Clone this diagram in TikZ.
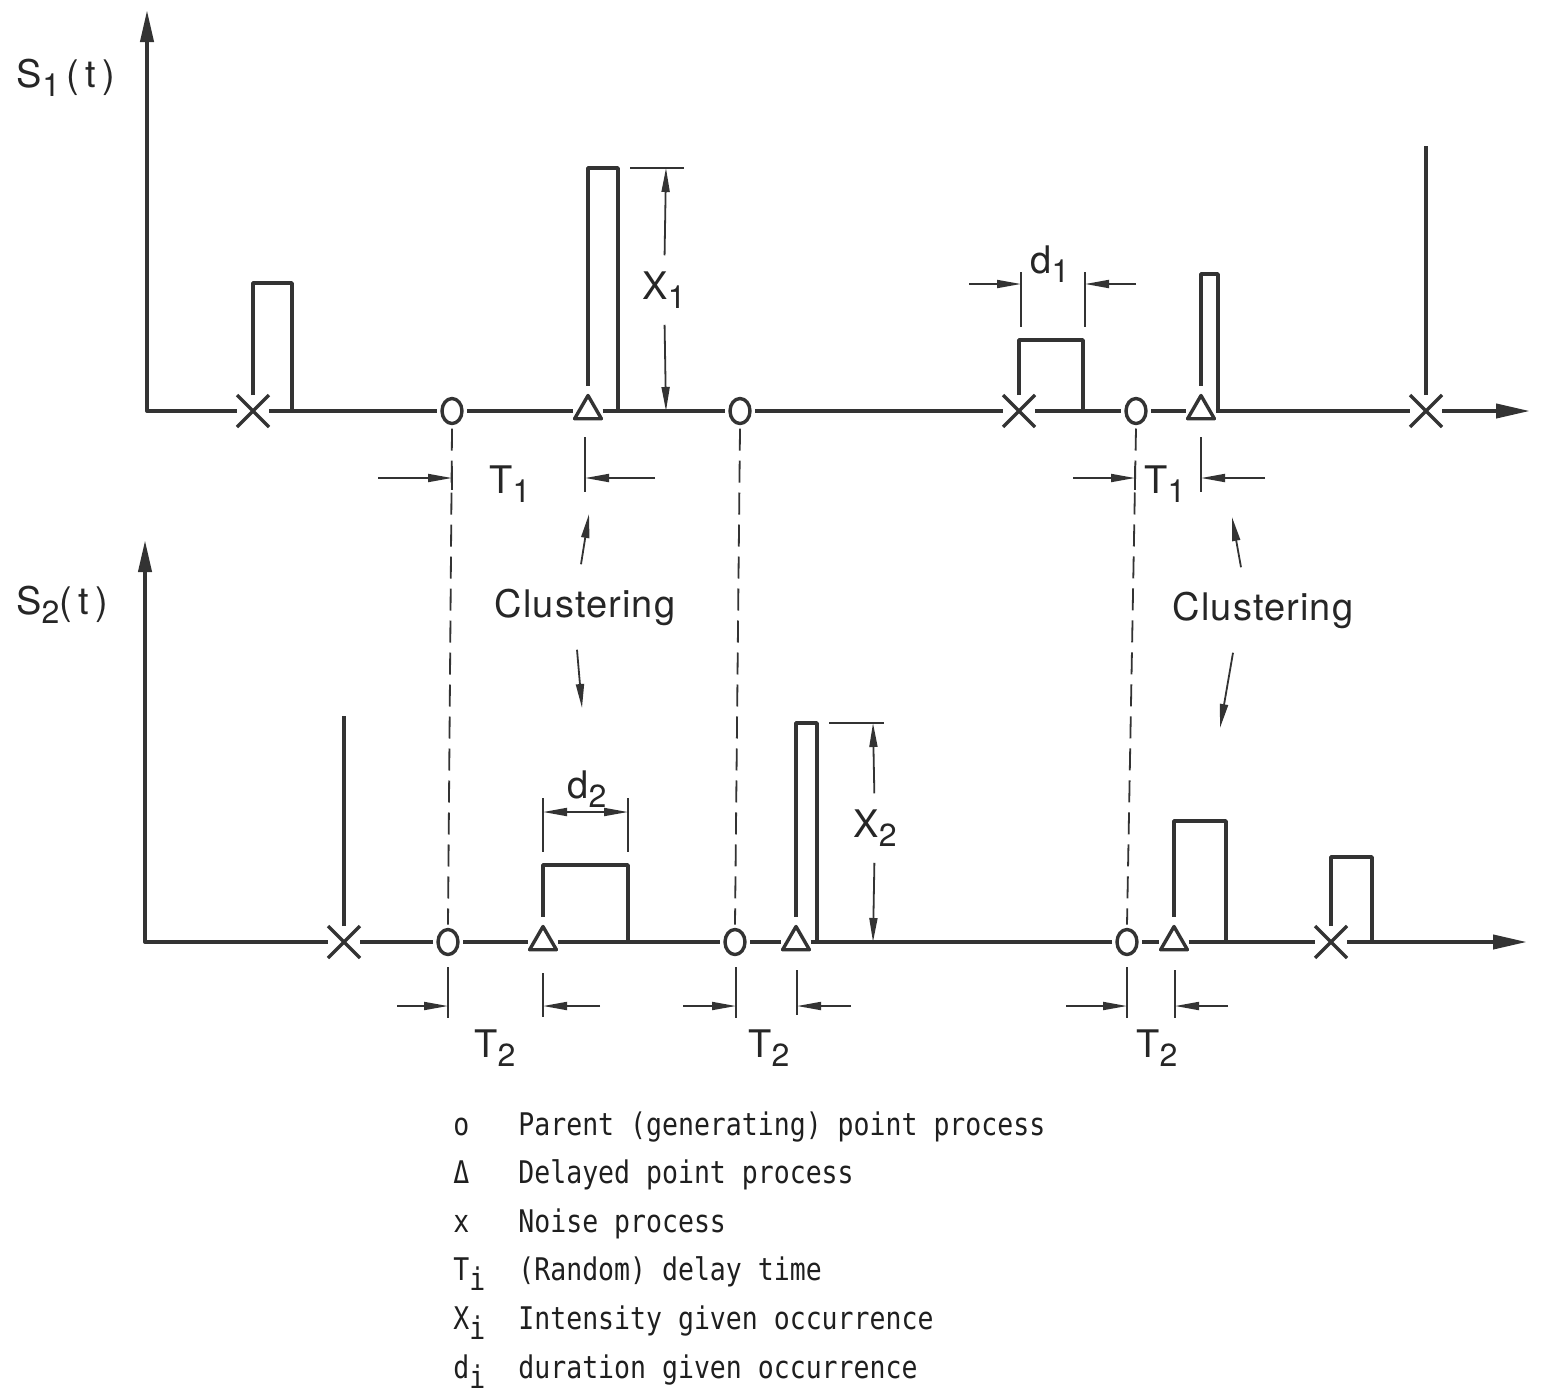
\documentclass[tikz,border=0pt]{standalone}
\usepackage{fontspec}
\setmainfont{TeX Gyre Heros}
\newfontfamily\labfont{TeX Gyre Heros}[LetterSpace=3.0]
\newfontfamily\legfont{DejaVu Sans Mono}[FakeStretch=0.85]
\usetikzlibrary{arrows.meta,shapes.geometric,shapes.misc}
\definecolor{ink}{gray}{0.2}
\newcommand{\lsub}[1]{\raisebox{-4.5pt}{\fontsize{16}{18}\selectfont #1}}
\newcommand{\isub}{\raisebox{-5pt}{i}}

\begin{document}
\begin{tikzpicture}[
  x=0.5pt, y=-0.5pt, line join=round,
  axis/.style={draw=ink, line width=2pt},
  yhead/.style={axis, {Triangle[length=16pt,width=6.5pt]}-},
  xhead/.style={axis, -{Triangle[length=17pt,width=7pt]}},
  pulse/.style={draw=ink, line width=1.8pt},
  dimline/.style={draw=ink, line width=0.9pt},
  dimarrow/.style={dimline, -{Triangle[length=12pt,width=4pt]}},
  guide/.style={draw=ink, line width=0.9pt, dash pattern=on 11pt off 5pt},
  parent/.style={ellipse, draw=ink, line width=1.7pt, minimum width=10pt, minimum height=12.5pt, inner sep=0pt, outer sep=2.5pt},
  delayed/.style={regular polygon, regular polygon sides=3, draw=ink, line width=1.7pt, minimum size=15.5pt, inner sep=0pt, outer sep=2.5pt},
  noise/.style={cross out, draw=ink, line width=1.7pt, minimum size=10pt, inner sep=0pt, outer sep=3pt},
  lab/.style={font=\labfont\fontsize{19}{22}\selectfont, text=black!85, inner sep=3pt},
  legend/.style={font=\legfont\fontsize{15.6}{18}\selectfont, text=black!88, anchor=base west, inner sep=0pt}
]
\useasboundingbox (0,0) rectangle (1542,1393);

% S1(t)
\coordinate (ytop1) at (147,10);
\coordinate (org1) at (147,411);
\coordinate (xend1) at (1530,411);
\node[noise] (n1) at (253,411) {};
\node[parent] (p1) at (452,411) {};
\node[delayed] (d1) at (588,411) {};
\node[parent] (p2) at (740,411) {};
\node[noise] (n2) at (1019,411) {};
\node[parent] (p3) at (1136,411) {};
\node[delayed] (d2) at (1201,411) {};
\node[noise] (n3) at (1426,411) {};
\draw[yhead] (ytop1) -- (org1) -- (n1);
\draw[axis] (n1) -- (p1) -- (d1) -- (p2) -- (n2) -- (p3) -- (d2) -- (n3);
\draw[xhead] (n3) -- (xend1);
\draw[pulse] (n1.north) |- (292,283) -- (292,411);
\draw[pulse] (d1.north) |- (618,168) -- (618,411);
\draw[pulse] (n2.north) |- (1083,340) -- (1083,411);
\draw[pulse] (d2.north) |- (1218,274) -- (1218,411);
\draw[pulse] (n3.north) -- (1426,146);
\node[lab] (s1lab) at (66,78) {S\lsub{1}\,(\,t\,)};

% S2(t)
\coordinate (ytop2) at (145,540);
\coordinate (org2) at (145,942);
\coordinate (xend2) at (1527,942);
\node[noise] (m1) at (344,942) {};
\node[parent] (q1) at (448,942) {};
\node[delayed] (e1) at (543,942) {};
\node[parent] (q2) at (735,942) {};
\node[delayed] (e2) at (796,942) {};
\node[parent] (q3) at (1127,942) {};
\node[delayed] (e3) at (1174,942) {};
\node[noise] (m2) at (1331,942) {};
\draw[yhead] (ytop2) -- (org2) -- (m1);
\draw[axis] (m1) -- (q1) -- (e1) -- (q2) -- (e2) -- (q3) -- (e3) -- (m2);
\draw[xhead] (m2) -- (xend2);
\draw[pulse] (m1.north) -- (344,716);
\draw[pulse] (e1.north) |- (628,865) -- (628,942);
\draw[pulse] (e2.north) |- (817,723) -- (817,942);
\draw[pulse] (e3.north) |- (1226,821) -- (1226,942);
\draw[pulse] (m2.north) |- (1372,857) -- (1372,942);
\node[lab] (s2lab) at (62,605) {S\lsub{2}(\,t\,)};

% parent points in both records
\draw[guide] (p1.south) -- (q1.north);
\draw[guide] (p2.south) -- (q2.north);
\draw[guide] (p3.south) -- (q3.north);

% X1, d1
\draw[dimline] (630,168) -- (684,168);
\coordinate (x1top) at (666,168);
\coordinate (x1bot) at (666,411);
\node[lab, inner sep=8pt] (x1lab) at (664,290) {X\lsub{1}};
\draw[dimarrow] (x1lab) -- (x1top);
\draw[dimarrow] (x1lab) -- (x1bot);
\draw[dimline] (1021,272) -- (1021,327);
\draw[dimline] (1085,272) -- (1085,327);
\draw[dimarrow] (969,284) -- (1021,284);
\draw[dimarrow] (1136,284) -- (1085,284);
\node[lab] (d1lab) at (1050,264) {d\lsub{1}};

% T1
\draw[dimline] (452,466) -- (452,490);
\draw[dimarrow] (378,478) -- (452,478);
\draw[dimline] (585,437) -- (585,492);
\draw[dimarrow] (655,478) -- (585,478);
\node[lab] (t1a) at (510,484) {T\lsub{1}};
\draw[dimline] (1135,466) -- (1135,490);
\draw[dimarrow] (1073,478) -- (1135,478);
\draw[dimline] (1201,437) -- (1201,492);
\draw[dimarrow] (1265,478) -- (1201,478);
\node[lab] (t1b) at (1165,484) {T\lsub{1}};

% clustering
\node[lab, inner sep=12pt] (clu1) at (585,607) {Clustering};
\coordinate (c1up) at (589,514);
\coordinate (c1dn) at (582,708);
\draw[dimarrow] ([xshift=-2pt]clu1.north) -- (c1up);
\draw[dimarrow] ([xshift=-4pt]clu1.south) -- (c1dn);
\node[lab, inner sep=12pt] (clu2) at (1263,610) {Clustering};
\coordinate (c2up) at (1232,517);
\coordinate (c2dn) at (1220,728);
\draw[dimarrow] ([xshift=-11pt]clu2.north) -- (c2up);
\draw[dimarrow] ([xshift=-15pt]clu2.south) -- (c2dn);

% d2, X2
\draw[dimline] (543,798) -- (543,852);
\draw[dimline] (628,798) -- (628,852);
\draw[dimline, {Triangle[length=12pt,width=4pt]}-{Triangle[length=12pt,width=4pt]}] (543,812) -- (628,812);
\node[lab] (d2lab) at (587,789) {d\lsub{2}};
\draw[dimline] (829,723) -- (884,723);
\coordinate (x2top) at (873,723);
\coordinate (x2bot) at (873,942);
\node[lab, inner sep=8pt] (x2lab) at (875,828) {X\lsub{2}};
\draw[dimarrow] (x2lab) -- (x2top);
\draw[dimarrow] (x2lab) -- (x2bot);

% T2
\draw[dimline] (448,967) -- (448,1018);
\draw[dimarrow] (397,1006) -- (448,1006);
\draw[dimline] (543,973) -- (543,1017);
\draw[dimarrow] (600,1006) -- (543,1006);
\node[lab] (t2a) at (495,1048) {T\lsub{2}};
\draw[dimline] (736,967) -- (736,1018);
\draw[dimarrow] (683,1006) -- (736,1006);
\draw[dimline] (797,970) -- (797,1015);
\draw[dimarrow] (851,1006) -- (797,1006);
\node[lab] (t2b) at (769,1048) {T\lsub{2}};
\draw[dimline] (1127,967) -- (1127,1018);
\draw[dimarrow] (1066,1006) -- (1127,1006);
\draw[dimline] (1175,970) -- (1175,1018);
\draw[dimarrow] (1228,1006) -- (1175,1006);
\node[lab] (t2c) at (1157,1048) {T\lsub{2}};

% legend
\foreach \s/\t [count=\k] in {o/{Parent (generating) point process}, Δ/{Delayed point process}, x/{Noise process}, {T\isub}/{(Random) delay time}, {X\isub}/{Intensity given occurrence}, {d\isub}/{duration given occurrence}} {
  \node[legend] (sym\k) at (453,1086.4+48.6*\k) {\s};
  \node[legend] (txt\k) at (518,1086.4+48.6*\k) {\t};
}
\end{tikzpicture}
\end{document}
